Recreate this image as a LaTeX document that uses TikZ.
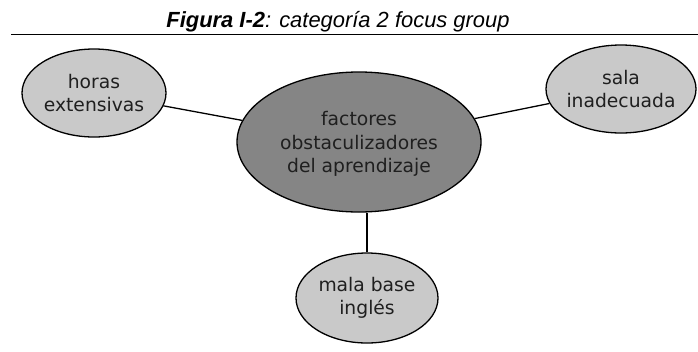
\documentclass[tikz,border=0pt]{standalone}
\usepackage{fontspec}
\setmainfont{DejaVu Sans}
\newfontfamily\titlefont{Liberation Sans}
\usetikzlibrary{shapes.geometric}
\definecolor{smallfill}{gray}{0.79}
\definecolor{bigfill}{gray}{0.52}
\definecolor{txtcol}{gray}{0.12}
\begin{document}
\begin{tikzpicture}[x=1bp,y=-1bp,
  bubble/.style={draw=black, line width=1.3bp, ellipse, inner sep=0pt},
  small/.style={bubble, fill=smallfill},
  big/.style={bubble, fill=bigfill},
  label text/.style={align=center, text=txtcol, inner sep=0pt,
    font=\fontsize{18.8}{23.5}\selectfont},
  conn/.style={draw=black, line width=1.3bp},
  titletext/.style={font=\titlefont\fontsize{22}{26}\selectfont, inner sep=0pt, anchor=base}]
\useasboundingbox (0,0) rectangle (698,351);
% title and rule
\node[titletext] (title) at (338,27) {\textbf{\textit{Figura I-2}}\textit{: categoría 2 focus group}};
\coordinate (rl) at (11,34.5);
\coordinate (rr) at (698,34.5);
\draw[line width=1.3bp] (rl) -- (rr);
% ellipses
\node[big, minimum width=244bp, minimum height=140bp] (c) at (359,142) {};
\node[small, minimum width=144bp, minimum height=88bp] (l) at (94,93) {};
\node[small, minimum width=150bp, minimum height=88bp] (r) at (621,89) {};
\node[small, minimum width=142bp, minimum height=90bp] (b) at (367,298) {};
% connectors
\draw[conn] (l) -- (c);
\draw[conn] (c) -- (r);
\draw[conn] (b.north) -- (b.north |- c.south);
% texts
\node[label text] (ct) at ([yshift=-2bp]c.center) {factores\\obstaculizadores\\del aprendizaje};
\node[label text] (lt) at (l.center) {horas\\extensivas};
\node[label text] (rt) at (r.center) {sala\\inadecuada};
\node[label text] (bt) at (b.center) {mala base\\inglés};
\end{tikzpicture}
\end{document}
